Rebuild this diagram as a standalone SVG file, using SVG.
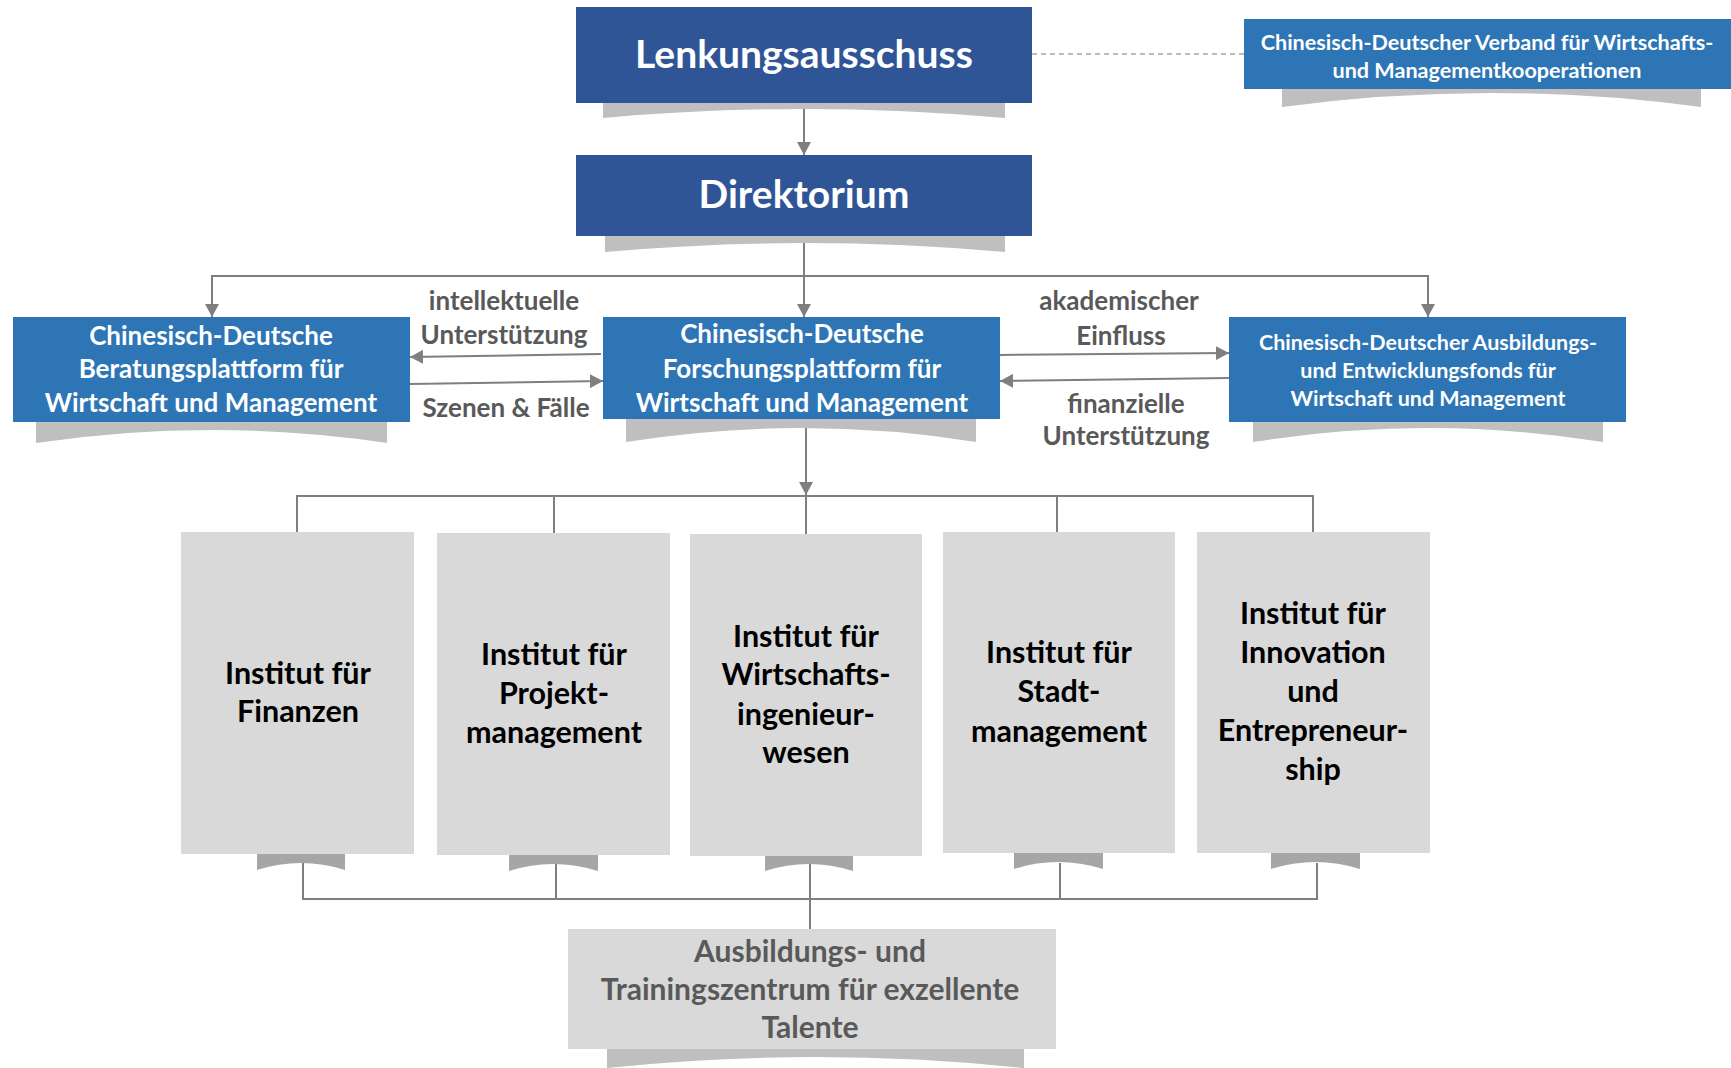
<svg xmlns="http://www.w3.org/2000/svg" width="1731" height="1068" viewBox="0 0 1731 1068">
<style>
text{font-family:Lato,"Open Sans","Liberation Sans",sans-serif;font-weight:bold;text-anchor:middle}
.dark{fill:#2F5597}
.blue{fill:#2E75B6}
.grey{fill:#D9D9D9}
.sh{fill:#BFBFBF}
.tab{fill:#A6A6A6}
.wt{fill:#FFFFFF}
.lbl{fill:#595959;font-size:26px}
.inst{fill:#000000;font-size:30.5px}
.ln{fill:none;stroke:#7F7F7F;stroke-width:2}
.dash{fill:none;stroke:#A6A6A6;stroke-width:1.5;stroke-dasharray:5 4}
</style>
<defs>
<marker id="ah" markerWidth="14" markerHeight="14" refX="13" refY="7" orient="auto" markerUnits="userSpaceOnUse">
<path d="M0,0 L13,7 L0,14 Z" fill="#7F7F7F"/>
</marker>
</defs>
<rect width="1731" height="1068" fill="#FFFFFF"/>

<g id="connectors">
<path class="dash" d="M1032,54 H1244"/>
<path class="ln" d="M804,103 V155" marker-end="url(#ah)"/>
<path class="ln" d="M804,236 V317" marker-end="url(#ah)"/>
<path class="ln" d="M804,276 H212 V317" marker-end="url(#ah)"/>
<path class="ln" d="M804,276 H1428 V317" marker-end="url(#ah)"/>
<path class="ln" d="M601,354 L410,357" marker-end="url(#ah)"/>
<path class="ln" d="M410,384 L603,381" marker-end="url(#ah)"/>
<path class="ln" d="M1000,355 L1229,353" marker-end="url(#ah)"/>
<path class="ln" d="M1229,378 L1000,381" marker-end="url(#ah)"/>
<path class="ln" d="M806,419 V495" marker-end="url(#ah)"/>
<path class="ln" d="M297,532 V496 H1313 V532 M554,496 V533 M806,496 V534 M1057,496 V532"/>
<path class="ln" d="M303,863 V899 H1317 V863 M556,863 V899 M810,863 V929 M1060,863 V899"/>
</g>

<g id="lenkungsausschuss">
<path class="sh" d="M603,103 H1005 V118 Q804,100 603,118 Z"/>
<rect class="dark" x="576" y="7" width="456" height="96"/>
<text class="wt" x="804" y="68" font-size="39">Lenkungsausschuss</text>
</g>

<g id="verband">
<path class="sh" d="M1282,89 H1701 V107 Q1491,79 1282,107 Z"/>
<rect class="blue" x="1244" y="19" width="487" height="70"/>
<text class="wt" font-size="21.6"><tspan x="1487" y="50">Chinesisch-Deutscher Verband für Wirtschafts-</tspan><tspan x="1487" y="78">und Managementkooperationen</tspan></text>
</g>

<g id="direktorium">
<path class="sh" d="M605,236 H1005 V252 Q805,234 605,252 Z"/>
<rect class="dark" x="576" y="155" width="456" height="81"/>
<text class="wt" x="804" y="208" font-size="39">Direktorium</text>
</g>

<g id="beratung">
<path class="sh" d="M36,422 H387 V443 Q211,417 36,443 Z"/>
<rect class="blue" x="13" y="317" width="397" height="105"/>
<text class="wt" font-size="26"><tspan x="211" y="345">Chinesisch-Deutsche</tspan><tspan x="211" y="378">Beratungsplattform für</tspan><tspan x="211" y="412">Wirtschaft und Management</tspan></text>
</g>

<g id="forschung">
<path class="sh" d="M626,419 H976 V442 Q801,414 626,442 Z"/>
<rect class="blue" x="603" y="317" width="397" height="102"/>
<text class="wt" font-size="26"><tspan x="802" y="343">Chinesisch-Deutsche</tspan><tspan x="802" y="378">Forschungsplattform für</tspan><tspan x="802" y="412">Wirtschaft und Management</tspan></text>
</g>

<g id="fonds">
<path class="sh" d="M1253,422 H1603 V442 Q1428,414 1253,442 Z"/>
<rect class="blue" x="1229" y="317" width="397" height="105"/>
<text class="wt" font-size="21.5"><tspan x="1428" y="350">Chinesisch-Deutscher Ausbildungs-</tspan><tspan x="1428" y="378">und Entwicklungsfonds für</tspan><tspan x="1428" y="406">Wirtschaft und Management</tspan></text>
</g>

<g id="labels">
<text class="lbl"><tspan x="504" y="310">intellektuelle</tspan><tspan x="504" y="344">Unterstützung</tspan></text>
<text class="lbl" x="506" y="417">Szenen &amp; Fälle</text>
<text class="lbl"><tspan x="1119" y="310">akademischer</tspan><tspan x="1121" y="345">Einfluss</tspan></text>
<text class="lbl"><tspan x="1126" y="413">finanzielle</tspan><tspan x="1126" y="445">Unterstützung</tspan></text>
</g>

<g id="finanzen">
<path class="tab" d="M257,854 H345 V870 Q301,856 257,870 Z"/>
<rect class="grey" x="181" y="532" width="233" height="322"/>
<text class="inst"><tspan x="298" y="684">Institut für</tspan><tspan x="298" y="722">Finanzen</tspan></text>
</g>

<g id="projekt">
<path class="tab" d="M509,855 H598 V871 Q553,857 509,871 Z"/>
<rect class="grey" x="437" y="533" width="233" height="322"/>
<text class="inst"><tspan x="554" y="665">Institut für</tspan><tspan x="554" y="704">Projekt-</tspan><tspan x="554" y="743">management</tspan></text>
</g>

<g id="wirtschaftsingenieurwesen">
<path class="tab" d="M765,856 H853 V871 Q809,857 765,871 Z"/>
<rect class="grey" x="690" y="534" width="232" height="322"/>
<text class="inst"><tspan x="806" y="647">Institut für</tspan><tspan x="806" y="685">Wirtschafts-</tspan><tspan x="806" y="725">ingenieur-</tspan><tspan x="806" y="763">wesen</tspan></text>
</g>

<g id="stadtmanagement">
<path class="tab" d="M1014,853 H1103 V869 Q1058,855 1014,869 Z"/>
<rect class="grey" x="943" y="532" width="232" height="321"/>
<text class="inst"><tspan x="1059" y="663">Institut für</tspan><tspan x="1059" y="702">Stadt-</tspan><tspan x="1059" y="742">management</tspan></text>
</g>

<g id="innovation">
<path class="tab" d="M1271,853 H1360 V869 Q1315,855 1271,869 Z"/>
<rect class="grey" x="1197" y="532" width="233" height="321"/>
<text class="inst"><tspan x="1313" y="624">Institut für</tspan><tspan x="1313" y="663">Innovation</tspan><tspan x="1313" y="702">und</tspan><tspan x="1313" y="741">Entrepreneur-</tspan><tspan x="1313" y="780">ship</tspan></text>
</g>

<g id="ausbildung">
<path class="sh" d="M607,1049 H1024 V1068 Q815,1046 607,1068 Z"/>
<rect class="grey" x="568" y="929" width="488" height="120"/>
<text fill="#595959" font-size="30"><tspan x="810" y="962">Ausbildungs- und</tspan><tspan x="810" y="1000">Trainingszentrum für exzellente</tspan><tspan x="810" y="1038">Talente</tspan></text>
</g>
</svg>
